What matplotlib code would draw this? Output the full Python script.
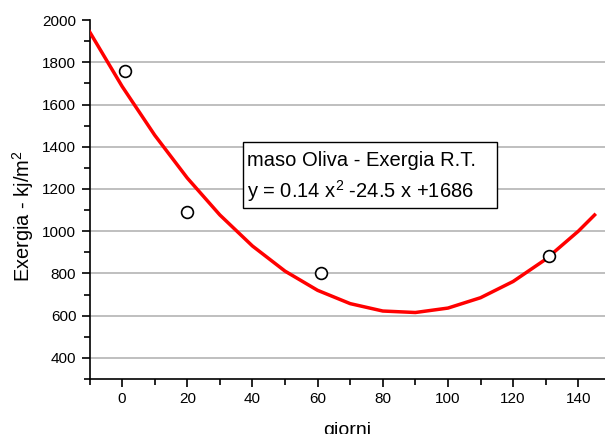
import matplotlib
matplotlib.use("Agg")
import matplotlib.pyplot as plt
from matplotlib.ticker import MultipleLocator
from matplotlib.patches import Rectangle

plt.rcParams['font.family'] = ['Liberation Sans', 'DejaVu Sans']
plt.rcParams['mathtext.default'] = 'regular'

# measured points
days = [1, 20, 61, 131]
exergy = [1760, 1090, 800, 885]

# fitted curve
fit_x = [-10, 0, 10, 20, 30, 40, 50, 60, 70, 80, 90, 100, 110, 120, 130, 140, 145]
fit_y = [1945, 1686, 1455, 1252, 1077, 930, 811, 720, 657, 622, 615, 636, 685, 762, 867, 1000, 1077]

box_lines = ["maso Oliva - Exergia R.T.", "y = 0.14 x$^{2}$ -24.5 x +1686"]

fig = plt.figure(figsize=(6.05, 4.34), dpi=100)
ax = fig.add_axes([0.148, 0.1267, 0.852, 0.827])

ax.plot(fit_x, fit_y, color='#ff0000', lw=2.5, zorder=3)
ax.plot(days, exergy, 'o', mfc='white', mec='black', ms=8.5, mew=1.2, zorder=4)

ax.set_xlim(-10, 148.2)
ax.set_ylim(300, 2000)
ax.xaxis.set_minor_locator(MultipleLocator(10))
ax.yaxis.set_minor_locator(MultipleLocator(100))
ax.set_yticks([400, 600, 800, 1000, 1200, 1400, 1600, 1800, 2000])
ax.set_xticks([0, 20, 40, 60, 80, 100, 120, 140])

ax.yaxis.grid(True, color='#b4b4b4', lw=1.2, zorder=0)
ax.get_ygridlines()[-1].set_visible(False)
ax.set_axisbelow(True)

for s in ['top', 'right']:
    ax.spines[s].set_visible(False)
for s in ['left', 'bottom']:
    ax.spines[s].set_linewidth(1.2)

ax.tick_params(which='major', direction='out', length=6, width=1.2, labelsize=11, colors='black')
ax.tick_params(which='minor', direction='out', length=4, width=1.2)

ax.set_xlabel('giorni', fontsize=14, labelpad=11.5)
ax.set_ylabel('Exergia - kj/m$^{2}$', fontsize=14.4)
ax.yaxis.set_label_coords(-0.104, 0.4526)

rect = Rectangle((0.2975, 0.476), 0.4925, 0.184, transform=ax.transAxes,
                 facecolor='white', edgecolor='black', lw=1.0, zorder=5)
ax.add_patch(rect)
ax.text(0.3047, 0.593, box_lines[0], transform=ax.transAxes, fontsize=14.5, zorder=6)
ax.text(0.3047, 0.504, box_lines[1], transform=ax.transAxes, fontsize=14.5, zorder=6)

fig.savefig('out.png', dpi=100)
